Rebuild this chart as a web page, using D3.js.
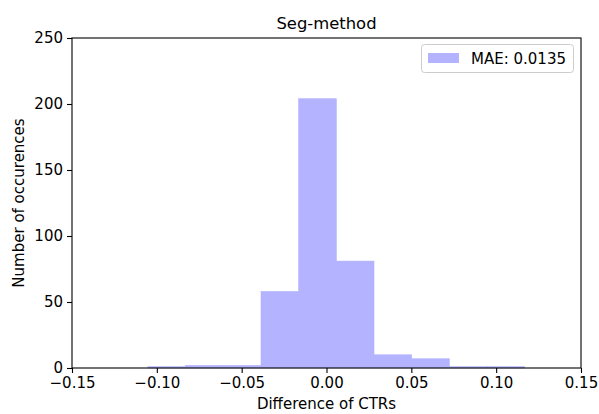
<!DOCTYPE html>
<html><head><meta charset="utf-8">
<script src="https://cdn.jsdelivr.net/npm/d3@7"></script>
<style>body{margin:0;background:#fff;} text{font-family:"DejaVu Sans",sans-serif;fill:#000;}</style>
</head><body>
<svg id="c" width="599" height="414"></svg>
<script>
const binEdges = [-0.1052, -0.0830, -0.0608, -0.0386, -0.0164, 0.0058, 0.0280, 0.0502, 0.0724, 0.0946, 0.1168];
const counts = [1, 2, 2, 58, 204, 81, 10, 7, 1, 1];
const xTicks = [-0.15, -0.10, -0.05, 0.00, 0.05, 0.10, 0.15];
const yTicks = [0, 50, 100, 150, 200, 250];
const title = "Seg-method";
const xLabel = "Difference of CTRs";
const yLabel = "Number of occurences";
const legendLabel = "MAE: 0.0135";

const svg = d3.select("#c");
const m = {l:72, r:581, t:38, b:368};
const x = d3.scaleLinear().domain([-0.15, 0.15]).range([m.l, m.r]);
const y = d3.scaleLinear().domain([0, 250]).range([m.b, m.t]);
const fill = "#b3b3ff";
const fs = "15px";

const bins = counts.map((c,i)=>({x0:binEdges[i], x1:binEdges[i+1], c}));
svg.append("g").selectAll("rect").data(bins).join("rect")
  .attr("x", d=>x(d.x0)).attr("width", d=>x(d.x1)-x(d.x0))
  .attr("y", d=>y(d.c)).attr("height", d=>y(0)-y(d.c))
  .attr("fill", fill).attr("stroke", fill).attr("stroke-width", 0.6);

const fmt = v => (v<0?"\u2212":"") + Math.abs(v).toFixed(2);
const xa = svg.append("g").attr("transform",`translate(0,${m.b})`)
  .call(d3.axisBottom(x).tickValues(xTicks).tickFormat(fmt).tickSize(5).tickPadding(4));
const ya = svg.append("g").attr("transform",`translate(${m.l},0)`)
  .call(d3.axisLeft(y).tickValues(yTicks).tickFormat(d3.format("d")).tickSize(5).tickPadding(4));
[xa,ya].forEach(a=>{
  a.select(".domain").remove();
  a.selectAll("line").attr("stroke","#000").attr("stroke-width",1.1);
  a.selectAll("text").attr("font-size",fs).attr("font-family","DejaVu Sans").attr("fill","#000");
});
svg.append("rect").attr("x",m.l).attr("y",m.t).attr("width",m.r-m.l).attr("height",m.b-m.t)
  .attr("fill","none").attr("stroke","#000").attr("stroke-width",1.1);

svg.append("text").attr("x",(m.l+m.r)/2).attr("y",29).attr("text-anchor","middle")
  .attr("font-size","16.4px").text(title);
svg.append("text").attr("x",(m.l+m.r)/2).attr("y",409).attr("text-anchor","middle")
  .attr("font-size",fs).text(xLabel);
svg.append("text").attr("transform",`translate(24,${(m.t+m.b)/2}) rotate(-90)`).attr("text-anchor","middle")
  .attr("font-size",fs).text(yLabel);

const lg = svg.append("g");
lg.append("rect").attr("x",421.5).attr("y",44.5).attr("width",152).attr("height",28).attr("rx",3)
  .attr("fill","#fff").attr("fill-opacity",0.8).attr("stroke","#cccccc");
lg.append("rect").attr("x",428).attr("y",53).attr("width",31).attr("height",10).attr("fill",fill);
lg.append("text").attr("x",471).attr("y",64).attr("font-size",fs).text(legendLabel);
</script>
</body></html>
